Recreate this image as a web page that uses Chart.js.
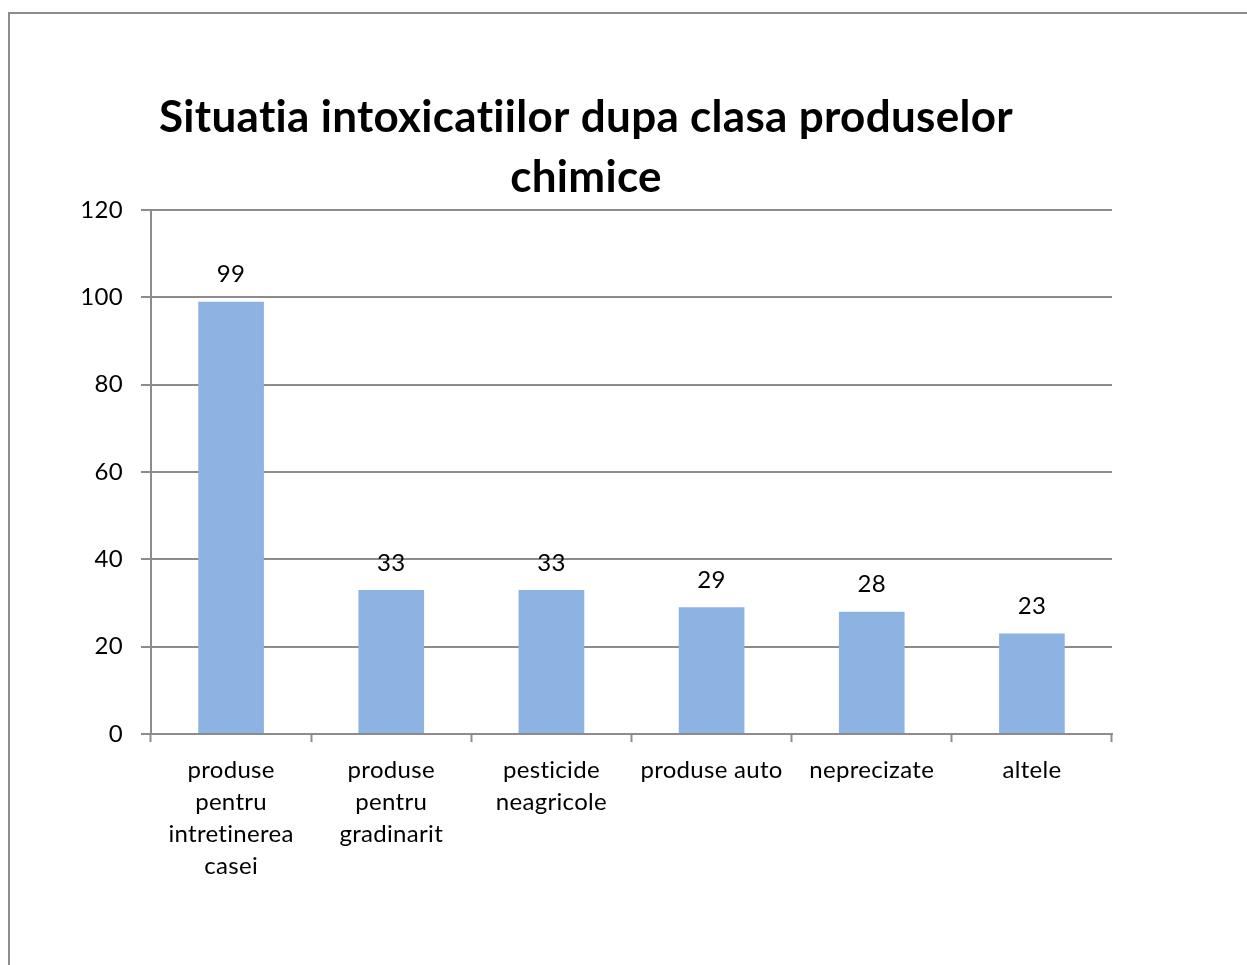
<!DOCTYPE html>
<html>
<head>
<meta charset="utf-8">
<script src="https://cdn.jsdelivr.net/npm/chart.js@4"></script>
<style>
  body { margin: 0; background: #fff; }
  #frame { position: absolute; left: 8px; top: 12px; width: 1260px; height: 990px; border: 2px solid #8c8c8c; }
  #chart { position: absolute; left: 0; top: 0; }
</style>
</head>
<body>
<div id="frame"></div>
<canvas id="chart" width="1247" height="965"></canvas>
<script>
// categories and values
var categories = [
    ['produse', 'pentru', 'intretinerea', 'casei'],
    ['produse', 'pentru', 'gradinarit'],
    ['pesticide', 'neagricole'],
    'produse auto',
    'neprecizate',
    'altele'
];
var cases = [99, 33, 33, 29, 28, 23];
var yTicks = [0, 20, 40, 60, 80, 100, 120];

var fontFamily = 'Lato, "Open Sans", sans-serif';

// no "ti" ligatures like the original Calibri text
var noLigatures = {
    id: 'noLigatures',
    beforeLayout: function (chart) { chart.ctx.letterSpacing = '0.3px'; },
    beforeDraw: function (chart) { chart.ctx.letterSpacing = '0.3px'; }
};

// value labels above bars
var barValues = {
    id: 'barValues',
    afterDatasetsDraw: function (chart) {
        var ctx = chart.ctx;
        var meta = chart.getDatasetMeta(0);
        ctx.save();
        ctx.font = '24px ' + fontFamily;
        ctx.fillStyle = '#000';
        ctx.textAlign = 'center';
        ctx.textBaseline = 'middle';
        meta.data.forEach(function (bar, i) {
            ctx.fillText(chart.data.datasets[0].data[i], bar.x, bar.y - 27);
        });
        ctx.restore();
    }
};

var ctx = document.getElementById('chart').getContext('2d');
var myChart = new Chart(ctx, {
    type: 'bar',
    data: {
        labels: categories,
        datasets: [{
            data: cases,
            backgroundColor: '#8db3e2',
            borderWidth: 0,
            barPercentage: 0.41,
            categoryPercentage: 1
        }]
    },
    options: {
        responsive: false,
        animation: false,
        devicePixelRatio: 1,
        layout: { padding: { left: 60, right: 135, top: 88, bottom: 71 } },
        plugins: {
            legend: { display: false },
            tooltip: { enabled: false },
            title: {
                display: true,
                text: ['Situatia intoxicatiilor dupa clasa produselor', 'chimice'],
                color: '#000',
                font: { family: fontFamily, size: 44, weight: 'bold', lineHeight: '60px' },
                padding: { top: 0, bottom: 2 }
            }
        },
        scales: {
            x: {
                grid: {
                    drawOnChartArea: false,
                    drawTicks: true,
                    tickLength: 8,
                    tickWidth: 2,
                    tickColor: '#8c8c8c',
                    offset: true
                },
                border: { color: '#8c8c8c', width: 2 },
                ticks: {
                    color: '#000',
                    maxRotation: 0,
                    autoSkip: false,
                    padding: 12,
                    font: { family: fontFamily, size: 24, lineHeight: '32px' }
                }
            },
            y: {
                min: 0,
                max: 120,
                afterFit: function (scale) { scale.width = 91; },
                afterBuildTicks: function (scale) {
                    scale.ticks = yTicks.map(function (v) { return { value: v }; });
                },
                grid: {
                    color: '#8c8c8c',
                    lineWidth: 2,
                    tickLength: 10,
                    drawTicks: true
                },
                border: { color: '#8c8c8c', width: 2 },
                ticks: {
                    color: '#000',
                    padding: 18,
                    font: { family: fontFamily, size: 24 }
                }
            }
        }
    },
    plugins: [noLigatures, barValues]
});
</script>
</body>
</html>
